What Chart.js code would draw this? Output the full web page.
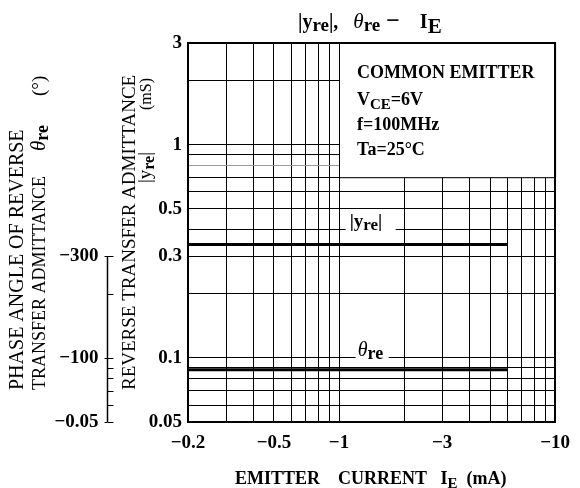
<!DOCTYPE html>
<html>
<head>
<meta charset="utf-8">
<script src="https://cdn.jsdelivr.net/npm/chart.js@4"></script>
<style>
  html, body { margin: 0; padding: 0; background: #fff; }
  #wrap { width: 580px; height: 488px; }
</style>
</head>
<body>
<div id="wrap"><canvas id="chart" width="580" height="488"></canvas></div>
<script>
// Emitter current (mA, magnitude) and the two measured curves
const currentMa = [0.2, 6];
const yreMs = [0.34, 0.34];
const thetaRe = [0.088, 0.088]; // read against the phase bracket on the left

// Grid lines and labelled ticks
const xGrid = [0.2, 0.3, 0.4, 0.5, 0.6, 0.7, 0.8, 0.9, 1, 2, 3, 4, 5, 6, 7, 8, 9, 10];
const xLabelled = [0.2, 0.5, 1, 3, 10];
const yGrid = [0.05, 0.06, 0.07, 0.08, 0.09, 0.1, 0.2, 0.3, 0.4, 0.5, 0.6, 0.7, 0.8, 0.9, 1, 2, 3];
const yLabelled = [0.05, 0.1, 0.3, 0.5, 1, 3];

// Phase bracket, positioned on the main y scale
const phaseTicks = [0.3, 0.2, 0.1, 0.09, 0.08, 0.07, 0.06, 0.05];
const phaseLabelAt = [0.3, 0.1, 0.05];
const phaseLabels = ['\u2212300', '\u2212100', '\u22120.05'];

const SERIF = '"Liberation Serif", "DejaVu Serif", serif';
const bold = (px) => `bold ${px}px ${SERIF}`;
const plain = (px) => `${px}px ${SERIF}`;
const italic = (px) => `italic ${px}px ${SERIF}`;

// Draw a run of text pieces with their own fonts / baseline shifts
const drawRich = (ctx, parts, x, y, align = 'left') => {
    let total = 0;
    parts.forEach(p => { ctx.font = p.font; total += ctx.measureText(p.text).width; });
    let cx = align === 'center' ? x - total / 2 : align === 'right' ? x - total : x;
    ctx.textAlign = 'left';
    ctx.textBaseline = 'alphabetic';
    parts.forEach(p => {
        ctx.font = p.font;
        ctx.fillText(p.text, cx, y + (p.dy || 0));
        cx += ctx.measureText(p.text).width;
    });
};

const drawRotated = (ctx, parts, x, y) => {
    ctx.save();
    ctx.translate(x, y);
    ctx.rotate(-Math.PI / 2);
    drawRich(ctx, parts, 0, 0, 'left');
    ctx.restore();
};

const decorations = {
    id: 'decorations',
    beforeDatasetsDraw(chart) {
        const { ctx, chartArea, scales: { x, y } } = chart;
        ctx.save();

        // conditions box in the upper right (grid hidden inside)
        const bx = x.getPixelForValue(1);
        const by = y.getPixelForValue(0.7);
        ctx.fillStyle = '#fff';
        ctx.fillRect(bx + 1, chartArea.top + 1, chartArea.right - bx - 2, by - chartArea.top - 1);
        ctx.strokeStyle = '#000';
        ctx.lineWidth = 1;
        ctx.beginPath();
        ctx.moveTo(Math.round(bx) + 0.5, chartArea.top);
        ctx.lineTo(Math.round(bx) + 0.5, by);
        ctx.lineTo(chartArea.right, by);
        ctx.stroke();
        ctx.lineWidth = 2;
        ctx.beginPath();
        ctx.moveTo(bx, chartArea.top);
        ctx.lineTo(chartArea.right, chartArea.top);
        ctx.lineTo(chartArea.right, by);
        ctx.stroke();

        ctx.fillStyle = '#000';
        drawRich(ctx, [{ text: 'COMMON EMITTER', font: bold(18) }], bx + 18, 78);
        drawRich(ctx, [
            { text: 'V', font: bold(18) },
            { text: 'CE', font: bold(15), dy: 4 },
            { text: '=6V', font: bold(18) }
        ], bx + 18, 105);
        drawRich(ctx, [{ text: 'f=100MHz', font: bold(18) }], bx + 18, 130);
        drawRich(ctx, [{ text: 'Ta=25\u00b0C', font: bold(18) }], bx + 18, 155);

        // curve labels sitting on grid lines
        const lx1 = x.getPixelForValue(1.12);
        const ly1 = y.getPixelForValue(0.4);
        ctx.fillStyle = '#fff';
        ctx.fillRect(lx1 - 4, ly1 - 3, 50, 6);
        ctx.fillStyle = '#000';
        drawRich(ctx, [
            { text: '|y', font: bold(19) },
            { text: 're', font: bold(17), dy: 3 },
            { text: '|', font: bold(19) }
        ], lx1, ly1 - 3);

        const lx2 = x.getPixelForValue(1.22);
        const ly2 = y.getPixelForValue(0.1);
        ctx.fillStyle = '#fff';
        ctx.fillRect(lx2 - 2, ly2 - 3, 33, 6);
        ctx.fillStyle = '#000';
        drawRich(ctx, [
            { text: '\u03b8', font: italic(20) },
            { text: 're', font: bold(18), dy: 3 }
        ], lx2, ly2 - 2);

        ctx.restore();
    },
    afterDraw(chart) {
        const { ctx, scales: { y } } = chart;
        ctx.save();
        ctx.fillStyle = '#000';
        ctx.strokeStyle = '#000';

        // title
        drawRich(ctx, [
            { text: '|y', font: bold(20) },
            { text: 're', font: bold(19), dy: 3 },
            { text: '|,   ', font: bold(20) },
            { text: '\u03b8', font: italic(21) },
            { text: 're', font: bold(19), dy: 3 },
            { text: ' \u2212', font: bold(24) },
            { text: '    I', font: bold(20) },
            { text: 'E', font: bold(21), dy: 5 }
        ], 298, 28);

        // x axis title
        drawRich(ctx, [
            { text: 'EMITTER    CURRENT   I', font: bold(18) },
            { text: 'E', font: bold(15), dy: 4 },
            { text: '  (mA)', font: bold(18) }
        ], 235, 484);

        // y axis titles (rotated)
        drawRotated(ctx, [{ text: 'REVERSE TRANSFER ADMITTANCE', font: plain(19) }], 135, 390);
        drawRotated(ctx, [
            { text: '|y', font: plain(19) },
            { text: 're', font: bold(16), dy: 3 },
            { text: '|', font: plain(19) }
        ], 151, 183);
        drawRotated(ctx, [{ text: '(mS)', font: plain(16) }], 151, 110);
        drawRotated(ctx, [{ text: 'PHASE ANGLE OF REVERSE', font: plain(20) }], 23, 390);
        drawRotated(ctx, [{ text: 'TRANSFER ADMITTANCE', font: plain(18) }], 45, 390);
        drawRotated(ctx, [
            { text: '\u03b8', font: italic(21) },
            { text: 're', font: bold(18), dy: 3 }
        ], 45, 151);
        drawRotated(ctx, [{ text: '(\u00b0)', font: plain(19) }], 45, 96);

        // phase bracket
        const ax = 107.5;
        ctx.lineWidth = 1.5;
        ctx.beginPath();
        ctx.moveTo(ax, y.getPixelForValue(phaseTicks[0]));
        ctx.lineTo(ax, y.getPixelForValue(phaseTicks[phaseTicks.length - 1]));
        ctx.stroke();
        ctx.lineWidth = 1;
        phaseTicks.forEach(v => {
            const py = Math.round(y.getPixelForValue(v)) + 0.5;
            ctx.beginPath();
            ctx.moveTo(ax, py);
            ctx.lineTo(ax + 6, py);
            ctx.stroke();
        });
        phaseLabelAt.forEach((v, i) => {
            const py = Math.round(y.getPixelForValue(v)) + 0.5;
            ctx.beginPath();
            ctx.moveTo(ax - 3, py);
            ctx.lineTo(ax, py);
            ctx.stroke();
            ctx.font = bold(19);
            ctx.textAlign = 'right';
            ctx.textBaseline = 'middle';
            ctx.fillText(phaseLabels[i], ax - 9, py);
        });
        ctx.restore();
    }
};

const gridOf = (edgeValue, light) => ({
    drawTicks: false,
    color: (c) => (c.tick && c.tick.value === light ? '#9a9a9a' : '#000'),
    lineWidth: (c) => (c.tick && c.tick.value === edgeValue ? 2 : 1)
});

new Chart(document.getElementById('chart'), {
    type: 'scatter',
    data: {
        datasets: [
            {
                label: '|yre|',
                data: currentMa.map((v, i) => ({ x: v, y: yreMs[i] })),
                showLine: true,
                borderColor: '#000',
                borderWidth: 3,
                pointRadius: 0
            },
            {
                label: 'θre',
                data: currentMa.map((v, i) => ({ x: v, y: thetaRe[i] })),
                showLine: true,
                borderColor: '#000',
                borderWidth: 3,
                pointRadius: 0
            }
        ]
    },
    options: {
        responsive: false,
        devicePixelRatio: 1,
        animation: false,
        layout: { padding: { top: 43, right: 20, left: 0, bottom: 0 } },
        plugins: {
            legend: { display: false },
            title: { display: false },
            tooltip: { enabled: false }
        },
        scales: {
            x: {
                type: 'logarithmic',
                min: 0.2,
                max: 10,
                afterBuildTicks: (axis) => { axis.ticks = xGrid.map(v => ({ value: v })); },
                afterFit: (axis) => { axis.height = 66; },
                grid: gridOf(10, null),
                border: { display: true, color: '#000', width: 2 },
                ticks: {
                    autoSkip: false,
                    maxRotation: 0,
                    padding: 10,
                    color: '#000',
                    font: { family: SERIF, size: 19, weight: 'bold' },
                    callback: (v) => (xLabelled.includes(v) ? '\u2212' + v : '')
                }
            },
            y: {
                type: 'logarithmic',
                min: 0.05,
                max: 3,
                afterBuildTicks: (axis) => { axis.ticks = yGrid.map(v => ({ value: v })); },
                afterFit: (axis) => { axis.width = 188; },
                grid: gridOf(3, 0.8),
                border: { display: true, color: '#000', width: 2 },
                ticks: {
                    autoSkip: false,
                    padding: 6,
                    color: '#000',
                    font: { family: SERIF, size: 19, weight: 'bold' },
                    callback: (v) => (yLabelled.includes(v) ? String(v) : '')
                }
            }
        }
    },
    plugins: [decorations]
});
</script>
</body>
</html>
